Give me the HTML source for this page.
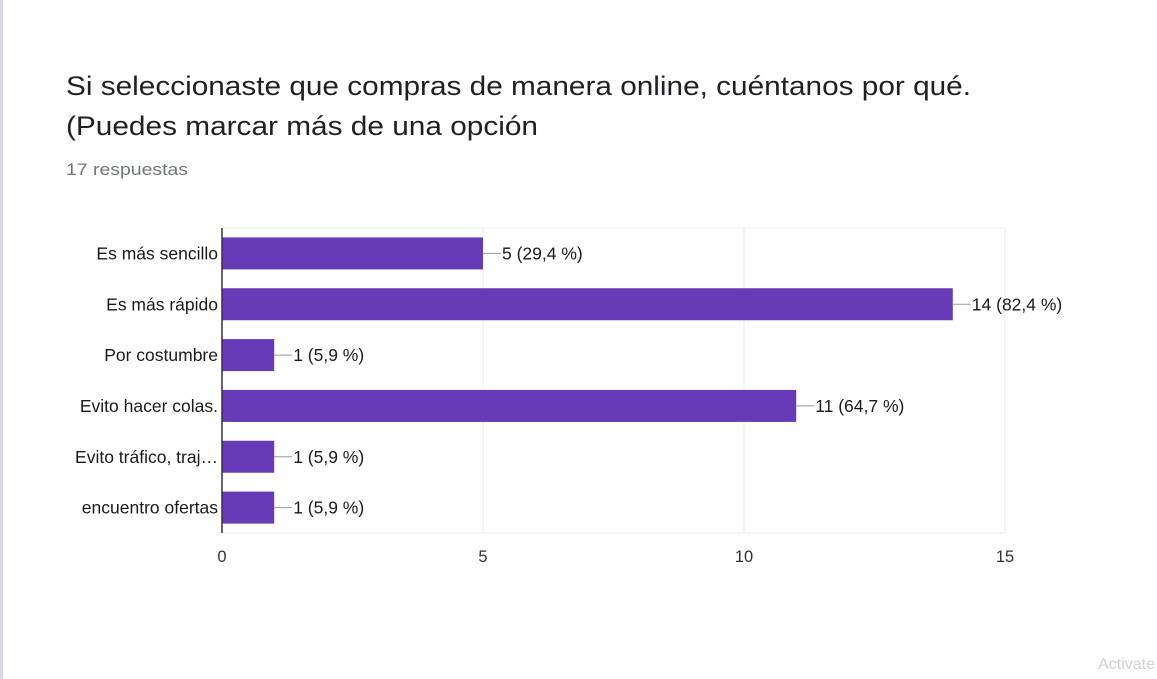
<!DOCTYPE html>
<html><head><meta charset="utf-8"><style>
html,body{margin:0;padding:0;background:#fff;width:1157px;height:679px;overflow:hidden}
svg{display:block;font-family:"Liberation Sans",sans-serif}
</style></head><body>
<svg id="chart" width="1157" height="679">
<rect x="0" y="0" width="3" height="679" fill="#d9d4e8"/>
<text x="66" y="95" font-size="27" fill="#202124" textLength="905" lengthAdjust="spacingAndGlyphs">Si seleccionaste que compras de manera online, cuéntanos por qué.</text>
<text x="66" y="135" font-size="27" fill="#202124" textLength="472" lengthAdjust="spacingAndGlyphs">(Puedes marcar más de una opción</text>
<text x="66" y="175" font-size="17" fill="#70757a" textLength="122" lengthAdjust="spacingAndGlyphs">17 respuestas</text>
<g id="plot"></g>
<text x="1155" y="669" font-size="16" fill="#d0d0d0" text-anchor="end">Activate</text>
</svg>
<script>
const categories=["Es más sencillo","Es más rápido","Por costumbre","Evito hacer colas.","Evito tráfico, traj…","encuentro ofertas"];
const values=[5,14,1,11,1,1];
const valueLabels=["5 (29,4 %)","14 (82,4 %)","1 (5,9 %)","11 (64,7 %)","1 (5,9 %)","1 (5,9 %)"];
const ticks=[0,5,10,15];
const x0=222,x1=1005,plotTop=228,plotBottom=533,maxVal=15;
const sx=v=>x0+(x1-x0)*v/maxVal;
const band=(plotBottom-plotTop)/categories.length;
const sy=i=>plotTop+band*(i+0.5);
const g=document.getElementById('plot');
const NS="http://www.w3.org/2000/svg";
function mk(t,a){const e=document.createElementNS(NS,t);for(const k in a)e.setAttribute(k,a[k]);g.appendChild(e);return e;}
const frame=mk('rect',{x:x0,y:plotTop,width:x1-x0,height:plotBottom-plotTop,fill:'none',stroke:'#ececec'});


ticks.forEach(t=>{
  const l=mk('line',{x1:sx(t),x2:sx(t),y1:plotTop,y2:plotBottom,stroke:'#ececec'});
  
  
  const tx=mk('text',{x:sx(t),y:562,'font-size':16.5,fill:'#333','text-anchor':'middle'});
  tx.textContent=t;
  
  
});
categories.forEach((c,i)=>{
  const y=sy(i);
  const b=mk('rect',{x:x0,y:y-16,width:sx(values[i])-x0,height:32,fill:'#673ab7'});
  
  
  const lab=mk('text',{x:218,y:y+6,'font-size':17.5,fill:'#1a1a1a','text-anchor':'end'});
  lab.textContent=c;
  
  
  const ld=mk('line',{x1:sx(values[i]),x2:sx(values[i])+18,y1:y,y2:y,stroke:'#999'});
  
  
  const vl=mk('text',{x:sx(values[i])+19,y:y+6,'font-size':17.5,fill:'#1a1a1a'});
  vl.textContent=valueLabels[i];
  
  
});
const ax=mk('line',{x1:x0,x2:x0,y1:plotTop,y2:plotBottom,stroke:'#333','stroke-width':1.5});


</script>
</body></html>
